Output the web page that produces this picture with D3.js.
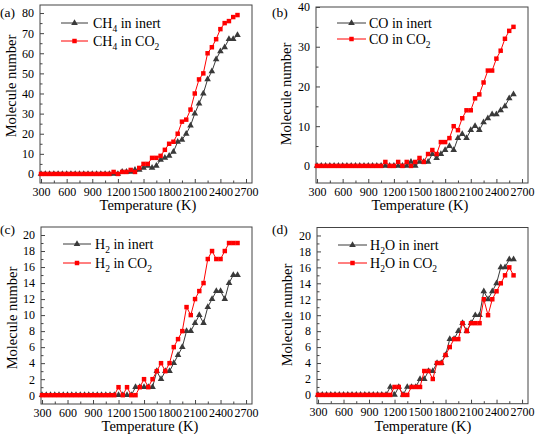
<!DOCTYPE html>
<html><head><meta charset="utf-8">
<script src="https://cdn.jsdelivr.net/npm/d3@7"></script>
<style>
html,body{margin:0;padding:0;background:#fff;}
svg, svg text{font-family:"Liberation Serif","Times New Roman",serif !important;}
</style></head><body>
<svg id="chart" width="541" height="434"></svg>
<script>
const temps = [300,350,400,450,500,550,600,650,700,750,800,850,900,950,1000,1050,1100,1150,1200,1250,1300,1350,1400,1450,1500,1550,1600,1650,1700,1750,1800,1850,1900,1950,2000,2050,2100,2150,2200,2250,2300,2350,2400,2450,2500,2550,2600];
const xTickLabels = [300,600,900,1200,1500,1800,2100,2400,2700];

const ch4Inert = [0,0,0,0,0,0,0,0,0,0,0,0,0,0,0,0,0, 0,0,1,1,1,2,2,3,4,3,4,7,8,9,11,16,17,20,24,30,35,40,47,51,57,61,63,67,67,69];
const ch4CO2   = [0,0,0,0,0,0,0,0,0,0,0,0,0,0,0,0,0, 1,0,1,1,2,1,3,5,5,8,8,9,12,15,16,20,26,27,32,40,47,50,60,63,67,72,75,76,78,79];
const coInert  = [0,0,0,0,0,0,0,0,0,0,0,0,0,0,0,0, 0,0,0,0,0,0,1,0,1,1,1,3,2,3,4,5,4,7,8,7,9,10,9,11,12,13,13,14,15,17,18];
const coCO2    = [0,0,0,0,0,0,0,0,0,0,0,0,0,0,0,0, 1,0,0,1,0,1,0,1,2,1,3,4,3,6,6,7,10,9,12,14,14,17,18,21,24,24,27,29,32,34,35];
const h2Inert  = [0,0,0,0,0,0,0,0,0,0,0,0,0,0,0,0,0,0, 0,0,0,0,1,1,1,1,1,3,2,3,3,4,5,6,8,8,9,10,9,11,12,13,13,12,14,15,15];
const h2CO2    = [0,0,0,0,0,0,0,0,0,0,0,0,0,0,0,0,0,0, 1,0,1,0,0,1,2,1,2,3,4,3,4,6,7,8,11,10,12,13,14,17,18,17,17,18,19,19,19];
const h2oInert = [0,0,0,0,0,0,0,0,0,0,0,0,0,0,0,0,0, 1,0,1,0,1,1,1,2,2,3,3,4,4,5,7,7,8,9,8,9,10,10,13,12,13,14,16,16,17,17];
const h2oCO2   = [0,0,0,0,0,0,0,0,0,0,0,0,0,0,0,0,0, 0,1,1,0,0,1,1,1,3,3,2,4,4,5,6,7,7,9,8,9,9,9,12,10,12,13,14,15,16,15];

const panels = [
  {tag:"(a)", species:["CH","4"], inert:ch4Inert, co2:ch4CO2, yTicks:[0,10,20,30,40,50,60,70,80], yMinor:[5,15,25,35,45,55,65,75], yDom:[-4.5,84],
   box:{l:40,r:252,t:5,b:183}, leg:{x1:61,x2:88,tx:93,y1:23,y2:41}, tagPos:[0,17], ylab:[13,86], xlab:148},
  {tag:"(b)", species:["CO",""], inert:coInert, co2:coCO2, yTicks:[0,10,20,30,40], yMinor:[5,15,25,35], yDom:[-4.3,40.0],
   box:{l:316,r:528,t:7,b:183}, leg:{x1:337,x2:366,tx:369,y1:23,y2:39}, tagPos:[272,17], ylab:[288,94], xlab:420},
  {tag:"(c)", species:["H","2"], inert:h2Inert, co2:h2CO2, yTicks:[0,2,4,6,8,10,12,14,16,18,20], yMinor:[1,3,5,7,9,11,13,15,17,19], yDom:[-1.1,21],
   box:{l:41,r:252,t:227,b:404}, leg:{x1:63,x2:91,tx:95,y1:244,y2:263}, tagPos:[0,234], ylab:[14,318], xlab:150},
  {tag:"(d)", species:["H","2","O"], inert:h2oInert, co2:h2oCO2, yTicks:[0,2,4,6,8,10,12,14,16,18,20], yMinor:[1,3,5,7,9,11,13,15,17,19], yDom:[-1.1,21],
   box:{l:317,r:528,t:227.5,b:403.7}, leg:{x1:338,x2:367,tx:370,y1:245,y2:263}, tagPos:[272,234], ylab:[289,315], xlab:423}
];

const svg = d3.select("#chart");
const FONT = '"Liberation Serif","Times New Roman",serif';
const xMinor = [450,750,1050,1350,1650,1950,2250,2550];
const darkCol = "#3a3a3a", redCol = "#ff0000";
const triangle = d3.symbol().type(d3.symbolTriangle).size(19);
const square = d3.symbol().type(d3.symbolSquare).size(20);

function legendText(g, x, y, sp, suffix){
  const t = g.append("text").attr("x",x).attr("y",y+5).attr("font-size",14).attr("fill","#000").style("font-family",FONT);
  t.append("tspan").text(sp[0]);
  if (sp[1]) t.append("tspan").attr("font-size",9.5).attr("dy",3.5).text(sp[1]);
  if (sp[2]) t.append("tspan").attr("font-size",14).attr("dy",-3.5).text(sp[2] + " in " + suffix[0]);
  else if (sp[1]) t.append("tspan").attr("dy",-3.5).text(" in " + suffix[0]);
  else t.append("tspan").text(" in " + suffix[0]);
  if (suffix[1]) { t.append("tspan").attr("font-size",9.5).attr("dy",3.5).text(suffix[1]); }
}

panels.forEach(p => {
  const g = svg.append("g");
  const x = d3.scaleLinear().domain([288,2770]).range([p.box.l, p.box.r]);
  const y = d3.scaleLinear().domain(p.yDom).range([p.box.b, p.box.t]);

  g.append("rect").attr("x",p.box.l).attr("y",p.box.t).attr("width",p.box.r-p.box.l).attr("height",p.box.b-p.box.t)
    .attr("fill","none").attr("stroke","#444").attr("stroke-width",1);

  g.append("g").attr("transform",`translate(0,${p.box.b})`)
    .call(d3.axisBottom(x).tickValues(xTickLabels).tickSize(-4).tickPadding(4).tickFormat(d3.format("d")));
  g.append("g").attr("transform",`translate(0,${p.box.b})`)
    .call(d3.axisBottom(x).tickValues(xMinor).tickSize(-2.5).tickFormat(""));
  g.append("g").attr("transform",`translate(${p.box.l},0)`)
    .call(d3.axisLeft(y).tickValues(p.yTicks).tickSize(-4).tickPadding(6).tickFormat(d3.format("d")));
  g.append("g").attr("transform",`translate(${p.box.l},0)`)
    .call(d3.axisLeft(y).tickValues(p.yMinor).tickSize(-2.5).tickFormat(""));
  g.selectAll(".domain").remove();
  g.selectAll("g").attr("font-family",null).attr("font-size",null);
  g.selectAll(".tick line").attr("stroke","#444");
  g.selectAll(".tick text").attr("font-size",12).style("font-family",FONT).attr("fill","#000");

  g.append("text").attr("x",p.xlab).attr("y",p.box.b+27).attr("text-anchor","middle")
    .attr("font-size",14.5).style("font-family",FONT).text("Temperature (K)");
  g.append("text").attr("transform",`translate(${p.ylab[0]},${p.ylab[1]}) rotate(-90)`)
    .attr("text-anchor","middle").attr("dominant-baseline","middle").attr("font-size",14.5).style("font-family",FONT).text("Molecule number");
  g.append("text").attr("x",p.tagPos[0]).attr("y",p.tagPos[1]).attr("font-size",13.5).style("font-family",FONT).text(p.tag);

  const line = d3.line().x((d,i)=>x(temps[i])).y(d=>y(d));
  g.append("path").datum(p.inert).attr("d",line).attr("fill","none").attr("stroke",darkCol).attr("stroke-width",1);
  g.selectAll(".tri").data(p.inert).enter().append("path").attr("d",triangle)
    .attr("transform",(d,i)=>`translate(${x(temps[i])},${y(d)})`).attr("fill",darkCol);
  g.append("path").datum(p.co2).attr("d",line).attr("fill","none").attr("stroke",redCol).attr("stroke-width",1);
  g.selectAll(".sq").data(p.co2).enter().append("path").attr("d",square)
    .attr("transform",(d,i)=>`translate(${x(temps[i])},${y(d)})`).attr("fill",redCol);

  const L = p.leg;
  g.append("line").attr("x1",L.x1).attr("x2",L.x2).attr("y1",L.y1).attr("y2",L.y1).attr("stroke",darkCol);
  g.append("path").attr("d",triangle).attr("transform",`translate(${(L.x1+L.x2)/2},${L.y1})`).attr("fill",darkCol);
  legendText(g, L.tx, L.y1, p.species, ["inert"]);
  g.append("line").attr("x1",L.x1).attr("x2",L.x2).attr("y1",L.y2).attr("y2",L.y2).attr("stroke",redCol);
  g.append("path").attr("d",square).attr("transform",`translate(${(L.x1+L.x2)/2},${L.y2})`).attr("fill",redCol);
  legendText(g, L.tx, L.y2, p.species, ["CO","2"]);
});
</script>
</body></html>
